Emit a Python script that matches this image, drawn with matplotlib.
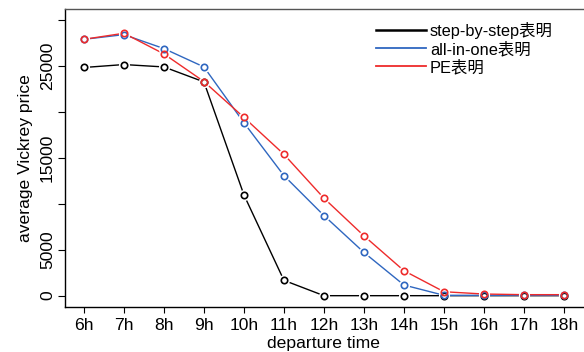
import matplotlib
matplotlib.use("Agg")
import matplotlib.pyplot as plt
from matplotlib.lines import Line2D

plt.rcParams['font.family'] = ['Liberation Sans', 'Noto Sans CJK SC', 'DejaVu Sans']

# departure hours and average Vickrey price per scheme
hours = [6, 7, 8, 9, 10, 11, 12, 13, 14, 15, 16, 17, 18]
hour_labels = [f"{h}h" for h in hours]
step_by_step = [24860, 25180, 24920, 23290, 10980, 1670, 0, 0, 0, 0, 0, 0, 0]
all_in_one = [27930, 28440, 26920, 24920, 18840, 13080, 8730, 4710, 1160, 40, 40, 40, 40]
pe = [27930, 28590, 26340, 23330, 19420, 15400, 10620, 6520, 2720, 430, 180, 110, 110]

series = [
    (step_by_step, "black", "step-by-step表明"),
    (all_in_one, "#2f67c0", "all-in-one表明"),
    (pe, "#ee2b2b", "PE表明"),
]

fig = plt.figure(figsize=(5.84, 3.52), dpi=100)
ax = fig.add_axes([0.1108, 0.1287, 0.8878, 0.8449])

for vals, col, lab in series:
    # R style type="b": line with small gaps around the open circles
    ax.plot(hours, vals, color=col, lw=1.0, zorder=2)
    ax.plot(hours, vals, ls="none", marker="o", ms=8, mfc="white", mec="none", zorder=3)
    ax.plot(hours, vals, ls="none", marker="o", ms=4.6, mfc="none", mec=col, mew=1.2, zorder=4)

ax.set_xlim(5.52, 18.48)
ax.set_ylim(-1200, 31200)
ax.set_xticks(hours)
ax.set_xticklabels(hour_labels)
ax.set_yticks([0, 5000, 10000, 15000, 20000, 25000, 30000])
ax.set_yticklabels(["0", "5000", "", "15000", "", "25000", ""], rotation=90, va="center")
ax.tick_params(axis="both", labelsize=12.6, length=4, width=0.8, pad=4)
ax.tick_params(axis="y", length=5, pad=2)
ax.spines["right"].set_visible(False)
for s in ["left", "bottom", "top"]:
    ax.spines[s].set_linewidth(1.0)
ax.spines["top"].set_color("#555555")

ax.set_xlabel("departure time", fontsize=12.6, labelpad=2)
ax.set_ylabel("average Vickrey price", fontsize=12.6, labelpad=5)

handles = [Line2D([], [], color=c, lw=(1.8 if c == "black" else 1.3)) for _, c, _ in series]
fig.legend(handles, [lab for _, _, lab in series], loc="upper left",
           bbox_to_anchor=(376 / 584, 1 - 22 / 352), frameon=False, fontsize=11.8,
           handlelength=3.03, handletextpad=0.27, labelspacing=0.15, borderpad=0, borderaxespad=0)

fig.savefig("out.png", dpi=100)
